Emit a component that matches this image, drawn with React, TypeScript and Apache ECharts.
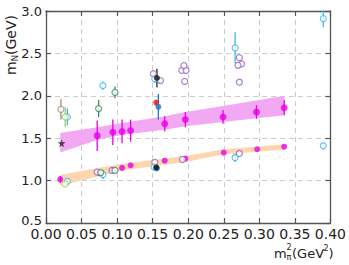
import React, { useEffect, useRef } from "react";
import * as echarts from "echarts";

// ---- data ----
const magentaUpperX = [0.072, 0.094, 0.107, 0.119, 0.167, 0.196, 0.249, 0.296, 0.335];
const magentaUpperY = [1.53, 1.57, 1.58, 1.59, 1.67, 1.72, 1.75, 1.81, 1.86];
const magentaUpperErr = [0.18, 0.15, 0.14, 0.13, 0.09, 0.09, 0.08, 0.08, 0.09];

const magentaLowerX = [0.02, 0.075, 0.094, 0.107, 0.119, 0.167, 0.196, 0.25, 0.297, 0.335];
const magentaLowerY = [1.015, 1.09, 1.125, 1.15, 1.18, 1.235, 1.26, 1.33, 1.37, 1.4];
const magentaLowerErr = [0.04, 0, 0, 0, 0, 0, 0, 0, 0, 0];

const purpleX = [0.072, 0.093, 0.153, 0.192, 0.272, 0.151, 0.161, 0.191, 0.197, 0.194, 0.195, 0.272, 0.275, 0.27, 0.272];
const purpleY = [1.1, 1.12, 1.215, 1.25, 1.32, 2.26, 2.18, 2.3, 2.3, 2.355, 2.17, 2.45, 2.375, 2.36, 2.16];

const lightBlueX = [0.03, 0.08, 0.03, 0.08, 0.152, 0.153, 0.266, 0.266, 0.39, 0.39];
const lightBlueY = [1.75, 2.12, 0.99, 1.07, 1.16, 2.2, 2.565, 1.27, 2.91, 1.41];
const lightBlueErr = [0.1, 0.05, 0.04, 0.05, 0.04, 0.05, 0.185, 0.05, 0.1, 0.04];

const darkGreenX = [0.074, 0.097, 0.077, 0.097];
const darkGreenY = [1.85, 2.04, 1.095, 1.12];
const darkGreenErr = [0.1, 0.07, 0, 0];

const lightGreenX = [0.027, 0.027];
const lightGreenY = [1.75, 0.96];
const lightGreenErr = [0.12, 0.02];

const brownX = [0.021];
const brownY = [1.84];
const brownErr = [0.12];

const blackX = [0.156, 0.155];
const blackY = [2.21, 1.155];
const blackErr = [0.11, 0.02];

const redX = [0.155];
const redY = [1.92];
const redErr = [0.03];

const blueX = [0.158, 0.156];
const blueY = [1.87, 1.145];
const blueErr = [0.15, 0.03];

const starX = [0.022];
const starY = [1.44];

const upperBandX = [0.02, 0.072, 0.107, 0.167, 0.196, 0.249, 0.335];
const upperBandLow = [1.33, 1.48, 1.54, 1.6, 1.64, 1.69, 1.77];
const upperBandHigh = [1.56, 1.63, 1.68, 1.76, 1.81, 1.88, 2.0];

const lowerBandX = [0.02, 0.107, 0.196, 0.25, 0.335];
const lowerBandLow = [0.94, 1.12, 1.22, 1.31, 1.365];
const lowerBandHigh = [1.07, 1.2, 1.29, 1.37, 1.43];

const xTicks = [0, 0.05, 0.1, 0.15, 0.2, 0.25, 0.3, 0.35, 0.4];
const yTicks = [0.5, 1.0, 1.5, 2.0, 2.5, 3.0];

// ---- styles ----
const MAGENTA = "#e800e8";
const PURPLE = "#9a5fb8";
const LBLUE = "#3cb8ee";
const DGREEN = "#3a8a5c";
const LGREEN = "#a6cf6c";
const BROWN = "#a58a7a";
const FONT = "DejaVu Sans";

const triples = (xs: number[], ys: number[], es?: number[]) =>
  xs.map((x, i) => [x, ys[i], es ? es[i] : 0]);

const errSeries = (data: number[][], color: string) => ({
  type: "custom",
  z: 3,
  silent: true,
  data,
  encode: { x: 0, y: 1 },
  renderItem: (_p: any, api: any) => {
    const x = api.value(0);
    const y = api.value(1);
    const e = api.value(2);
    if (!e) return null;
    const a = api.coord([x, y - e]);
    const b = api.coord([x, y + e]);
    return {
      type: "line",
      shape: { x1: a[0], y1: a[1], x2: b[0], y2: b[1] },
      style: { stroke: color, lineWidth: 1.3 },
    };
  },
});

const dots = (data: number[][], color: string, open: boolean, size = 6, symbol = "circle") => ({
  type: "scatter",
  z: 4,
  data: data.map((d) => [d[0], d[1]]),
  symbol,
  symbolSize: size,
  itemStyle: open
    ? { color: "#ffffff", borderColor: color, borderWidth: 1.2 }
    : { color, borderWidth: 0 },
});

const band = (bx: number[], lo: number[], hi: number[], fill: string) => ({
  type: "custom",
  z: 1,
  silent: true,
  data: [[bx[0], lo[0]]],
  encode: { x: 0, y: 1 },
  renderItem: (_p: any, api: any) => {
    const pts: number[][] = [];
    for (let i = 0; i < bx.length; i++) pts.push(api.coord([bx[i], hi[i]]));
    for (let i = bx.length - 1; i >= 0; i--) pts.push(api.coord([bx[i], lo[i]]));
    return { type: "polygon", shape: { points: pts }, style: { fill } };
  },
});

export default function App() {
  const ref = useRef<HTMLDivElement>(null);
  useEffect(() => {
    if (!ref.current) return;
    const chart = echarts.init(ref.current, undefined, { renderer: "svg" });
    const axisLine = { show: true, onZero: false, lineStyle: { color: "#555", width: 1.3 } };
    const tick = { show: true, inside: true, length: 5, lineStyle: { color: "#555", width: 1.2 } };
    const split = { show: true, lineStyle: { color: "#cccccc", type: [5, 4], width: 1 } };

    const upper = triples(magentaUpperX, magentaUpperY, magentaUpperErr);
    const lower = triples(magentaLowerX, magentaLowerY, magentaLowerErr);
    const purple = triples(purpleX, purpleY);
    const lblue = triples(lightBlueX, lightBlueY, lightBlueErr);
    const dgreen = triples(darkGreenX, darkGreenY, darkGreenErr);
    const lgreen = triples(lightGreenX, lightGreenY, lightGreenErr);
    const brown = triples(brownX, brownY, brownErr);
    const black = triples(blackX, blackY, blackErr);
    const red = triples(redX, redY, redErr);
    const blue = triples(blueX, blueY, blueErr);
    const star = triples(starX, starY);

    chart.setOption({
      animation: false,
      backgroundColor: "#ffffff",
      grid: { left: 46, right: 17, top: 11, bottom: 42 },
      xAxis: [
        {
          type: "value",
          min: xTicks[0],
          max: xTicks[xTicks.length - 1],
          interval: 0.05,
          position: "bottom",
          axisLine,
          axisTick: tick,
          splitLine: split,
          axisLabel: {
            fontFamily: FONT,
            fontSize: 14,
            color: "#222",
            lineHeight: 10,
            margin: 6,
            formatter: (v: number) => v.toFixed(2),
          },
        },
        {
          type: "value",
          min: xTicks[0],
          max: xTicks[xTicks.length - 1],
          interval: 0.05,
          position: "top",
          axisLine,
          axisTick: tick,
          splitLine: { show: false },
          axisLabel: { show: false },
        },
      ],
      yAxis: [
        {
          type: "value",
          min: yTicks[0],
          max: yTicks[yTicks.length - 1],
          interval: 0.5,
          position: "left",
          axisLine,
          axisTick: tick,
          splitLine: split,
          axisLabel: {
            fontFamily: FONT,
            fontSize: 13,
            color: "#222",
            lineHeight: 10,
            margin: 4,
            formatter: (v: number) => (v === yTicks[0] ? `{lo|${v.toFixed(1)}}` : v.toFixed(1)),
            rich: {
              lo: {
                fontFamily: FONT,
                fontSize: 13,
                color: "#222",
                lineHeight: 10,
                padding: [0, 0, 5, 0],
              },
            },
          },
        },
        {
          type: "value",
          min: yTicks[0],
          max: yTicks[yTicks.length - 1],
          interval: 0.5,
          position: "right",
          axisLine,
          axisTick: tick,
          splitLine: { show: false },
          axisLabel: { show: false },
        },
      ],
      graphic: [
        {
          type: "group",
          x: 11,
          y: 75,
          rotation: Math.PI / 2,
          children: [
            { type: "text", x: 0, y: 0, style: { text: "m", font: `14px ${FONT}`, fill: "#222", verticalAlign: "middle" } },
            { type: "text", x: 13.5, y: 4, style: { text: "N", font: `9px ${FONT}`, fill: "#222", verticalAlign: "middle" } },
            { type: "text", x: 20, y: 0, style: { text: "(GeV)", font: `14px ${FONT}`, fill: "#222", verticalAlign: "middle" } },
          ],
        },
        { type: "text", x: 274, y: 253, style: { text: "m", font: `13px ${FONT}`, fill: "#222", verticalAlign: "middle" } },
        { type: "text", x: 286.5, y: 247, style: { text: "2", font: `8px ${FONT}`, fill: "#222", verticalAlign: "middle" } },
        { type: "text", x: 286.5, y: 257, style: { text: "π", font: `8px ${FONT}`, fill: "#222", verticalAlign: "middle" } },
        { type: "text", x: 292, y: 253, style: { text: "(GeV", font: `13px ${FONT}`, fill: "#222", verticalAlign: "middle" } },
        { type: "text", x: 323.5, y: 248, style: { text: "2", font: `8px ${FONT}`, fill: "#222", verticalAlign: "middle" } },
        { type: "text", x: 328.5, y: 253, style: { text: ")", font: `13px ${FONT}`, fill: "#222", verticalAlign: "middle" } },
      ],
      series: [
        band(upperBandX, upperBandLow, upperBandHigh, "#f3a8f3"),
        band(lowerBandX, lowerBandLow, lowerBandHigh, "#fdd6b0"),
        errSeries(upper, MAGENTA),
        errSeries(lower, MAGENTA),
        errSeries(lblue, LBLUE),
        errSeries(dgreen, DGREEN),
        errSeries(lgreen, LGREEN),
        errSeries(brown, BROWN),
        errSeries(black, "#222"),
        errSeries(red, "#e82020"),
        errSeries(blue, "#1f78c8"),
        dots(upper, MAGENTA, false, 7),
        dots(lower, MAGENTA, false, 6),
        dots(purple, PURPLE, true, 6),
        dots(lblue, LBLUE, true, 6),
        dots(dgreen, DGREEN, true, 6),
        dots(lgreen, LGREEN, true, 6),
        dots(brown, BROWN, true, 6),
        dots(red, "#e82020", false, 6),
        dots(blue, "#1f78c8", false, 6),
        dots(black, "#111", false, 6),
        dots(
          star,
          "#222",
          false,
          8,
          "path://M50,0 L61,35 L98,35 L68,57 L79,91 L50,70 L21,91 L32,57 L2,35 L39,35 Z"
        ),
      ],
    });
    return () => chart.dispose();
  }, []);
  return (
    <div
      ref={ref}
      style={{ position: "absolute", left: 0, top: 0, width: 349, height: 265, background: "#fff" }}
    />
  );
}
